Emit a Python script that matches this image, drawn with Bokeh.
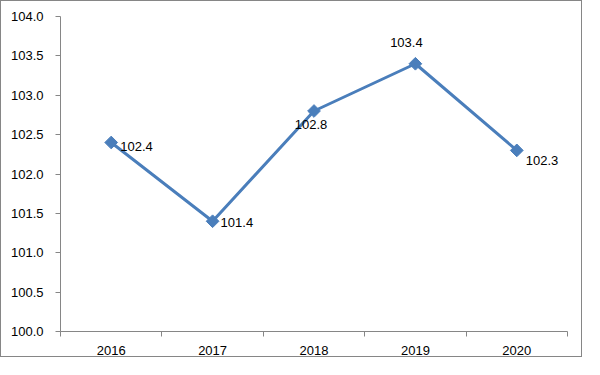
import math
from bokeh.plotting import figure
from bokeh.models import ColumnDataSource, FixedTicker, NumeralTickFormatter, Range1d
from bokeh.core.properties import value
from bokeh.embed import file_html
from bokeh.resources import INLINE

years = ["2016", "2017", "2018", "2019", "2020"]
values = [102.4, 101.4, 102.8, 103.4, 102.3]
y_ticks = [100.0, 100.5, 101.0, 101.5, 102.0, 102.5, 103.0, 103.5, 104.0]

# label placement (screen pixel offsets, style only)
label_dx = [9, 8, -3, -9, 9]
label_dy = [4, 1, 13, -21, 10]
label_align = ["left", "left", "center", "center", "left"]

xs = [i + 0.5 for i in range(len(years))]
labels = [f"{v:.1f}" for v in values]

FONT = "Liberation Sans"
AXIS_COLOR = "#868686"
LINE_COLOR = "#4a7ebb"

p = figure(width=582, height=357, output_backend="svg", toolbar_location=None,
           x_range=Range1d(0, len(years)), y_range=Range1d(100, 104),
           min_border_left=59, min_border_right=16, min_border_top=15,
           min_border_bottom=27)
p.styles = {"border": f"1px solid {AXIS_COLOR}"}
p.outline_line_color = None
p.xgrid.grid_line_color = None
p.ygrid.grid_line_color = None

p.line(xs, values, line_color=LINE_COLOR, line_width=3)
p.scatter(xs, values, marker="square", size=9, angle=math.pi / 4,
          fill_color=LINE_COLOR, line_color=LINE_COLOR)

src = ColumnDataSource(dict(x=xs, y=values, text=labels, dx=label_dx,
                            dy=label_dy, align=label_align))
p.text(x="x", y="y", text="text", x_offset="dx", y_offset="dy",
       text_align="align", text_baseline="middle", source=src,
       text_font=value(FONT), text_font_size="13px", text_color="#000000")

# x axis: labels at category centres, ticks at boundaries
xt = FixedTicker(ticks=xs, minor_ticks=list(range(len(years) + 1)))
p.xaxis.ticker = xt
p.xaxis.major_label_overrides = {x: y for x, y in zip(xs, years)}
p.xaxis.major_tick_out = 0
p.xaxis.major_tick_in = 0
p.xaxis.minor_tick_out = 5
p.xaxis.minor_tick_in = 0
p.xaxis.minor_tick_line_color = AXIS_COLOR
p.xaxis.axis_line_color = AXIS_COLOR
p.xaxis.major_label_standoff = 9
p.xaxis.major_label_text_font = FONT
p.xaxis.major_label_text_font_size = "13px"
p.xaxis.major_label_text_font_style = "normal"
p.xaxis.major_label_text_color = "#000000"

p.yaxis.ticker = FixedTicker(ticks=y_ticks)
p.yaxis.formatter = NumeralTickFormatter(format="0.0")
p.yaxis.minor_tick_line_color = None
p.yaxis.major_tick_out = 5
p.yaxis.major_tick_in = 0
p.yaxis.major_tick_line_color = AXIS_COLOR
p.yaxis.axis_line_color = AXIS_COLOR
p.yaxis.major_label_standoff = 12
p.yaxis.major_label_text_font = FONT
p.yaxis.major_label_text_font_size = "13px"
p.yaxis.major_label_text_font_style = "normal"
p.yaxis.major_label_text_color = "#000000"

open("out.html", "w").write(file_html(p, INLINE))
